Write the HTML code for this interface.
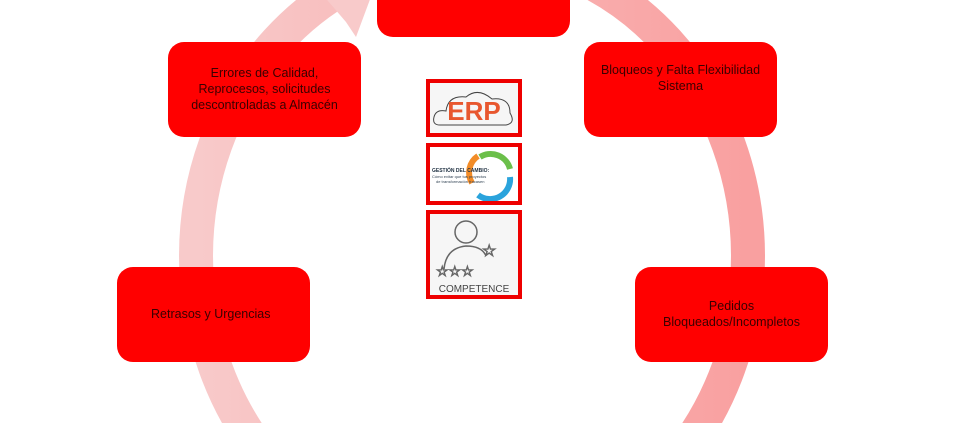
<!DOCTYPE html>
<html style="overflow:hidden"><head><meta charset="utf-8"><style>
html,body{margin:0;width:960px;height:423px;overflow:hidden}
body{background:#fff;font-family:"Liberation Sans",sans-serif;position:relative}
.b{position:absolute;background:#ff0000;border-radius:16px;color:#3a0000;font-size:12.5px;line-height:16px;text-align:center;box-sizing:border-box}
.im{position:absolute;left:426px;width:96px;box-sizing:border-box;border:4px solid #ee0000;background:#f6f6f6;overflow:hidden}
</style></head><body>
<svg width="960" height="423" style="position:absolute;left:0;top:0">
<defs><linearGradient id="g" x1="0" y1="0" x2="1" y2="0"><stop offset="0" stop-color="#f8caca"/><stop offset="1" stop-color="#f9a0a0"/></linearGradient></defs>
<ellipse cx="472" cy="256" rx="276" ry="303" fill="none" stroke="url(#g)" stroke-width="34"/>
<polygon points="346,22 356,37 372,-6 322,-6" fill="#f8caca"/>
</svg>
<div class="b" style="left:377px;top:-20px;width:193px;height:57px"></div>
<div class="b" style="left:168px;top:42px;width:193px;height:95px;padding-top:23px">Errores de Calidad,<br>Reprocesos, solicitudes<br>descontroladas a Almacén</div>
<div class="b" style="left:584px;top:42px;width:193px;height:95px;padding-top:20px">Bloqueos y Falta Flexibilidad<br>Sistema</div>
<div class="b" style="left:117px;top:267px;width:193px;height:95px;padding-top:39px;text-align:left;padding-left:34px">Retrasos y Urgencias</div>
<div class="b" style="left:635px;top:267px;width:193px;height:95px;padding-top:31px">Pedidos<br>Bloqueados/Incompletos</div>
<div class="im" style="top:79px;height:58px">
<svg width="88" height="50" style="display:block"><path d="M10 42 Q2 42 4 34 Q6 26 16 28 Q18 12 36 14 Q48 4 62 16 Q80 14 80 30 Q86 40 76 42 Z" fill="none" stroke="#444" stroke-width="1"/>
<text x="44" y="37" text-anchor="middle" font-family="Liberation Sans" font-weight="bold" font-size="26" fill="#e8572f">ERP</text></svg></div>
<div class="im" style="top:143px;height:62px;background:#fff">
<svg width="88" height="54" style="display:block"><path d="M50 10 A20 20 0 0 1 80 22" fill="none" stroke="#6bbf4a" stroke-width="6"/><path d="M80 30 A20 20 0 0 1 48 48" fill="none" stroke="#2aa3dc" stroke-width="6"/><path d="M42 36 A20 20 0 0 1 48 9" fill="none" stroke="#f28c28" stroke-width="6"/>
<text x="2" y="25" font-size="5" font-weight="bold" fill="#234">GESTIÓN DEL CAMBIO:</text><text x="2" y="31" font-size="4" fill="#345">Cómo evitar que tus proyectos</text><text x="6" y="36" font-size="4" fill="#345">de transformación fracasen</text></svg></div>
<div class="im" style="top:210px;height:89px">
<svg width="88" height="81" style="display:block"><circle cx="36" cy="18" r="11" fill="none" stroke="#666" stroke-width="1.5"/><path d="M14 55 Q16 34 36 32 Q52 32 56 42" fill="none" stroke="#666" stroke-width="1.5"/>
<text x="6" y="62" font-size="14" fill="#fff" stroke="#666">☆☆☆</text><text x="52" y="42" font-size="16" fill="#fff" stroke="#666">☆</text>
<text x="44" y="78" text-anchor="middle" font-size="10" fill="#444">COMPETENCE</text></svg></div>
</body></html>
